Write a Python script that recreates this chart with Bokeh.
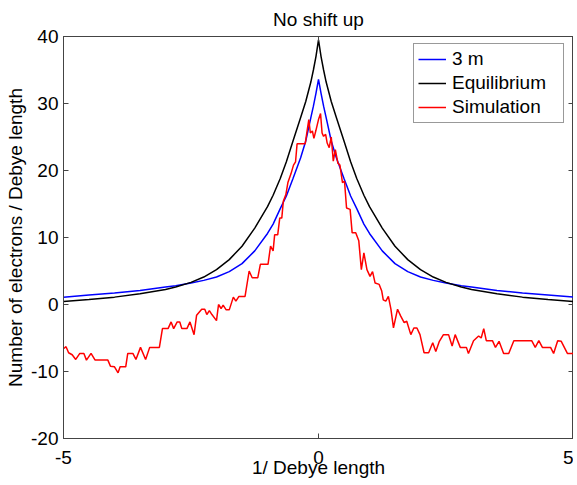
from bokeh.plotting import figure
from bokeh.models import LinearAxis, Legend, LegendItem, FixedTicker, Range1d
from bokeh.embed import file_html
from bokeh.resources import INLINE

# ---- data ----
x_smooth = [-5.0, -4.5, -4.0, -3.5, -3.0, -2.8, -2.5, -2.25, -2.0, -1.75, -1.5, -1.25, -1.0,
            -0.89, -0.75, -0.63, -0.5, -0.35, -0.25, -0.15, -0.1, -0.05, 0.0,
            0.05, 0.1, 0.15, 0.25, 0.35, 0.5, 0.63, 0.75, 0.89, 1.0,
            1.25, 1.5, 1.75, 2.0, 2.25, 2.5, 2.8, 3.0, 3.5, 4.0, 4.5, 5.0]
y_3m = [1.1, 1.4, 1.7, 2.1, 2.6, 2.8, 3.2, 3.6, 4.1, 4.9, 6.1, 8.0, 10.6,
        12.0, 14.3, 16.2, 18.8, 21.9, 24.4, 27.9, 29.6, 31.5, 33.6,
        31.5, 29.6, 27.9, 24.4, 21.9, 18.8, 16.2, 14.3, 12.0, 10.6,
        8.0, 6.1, 4.9, 4.1, 3.6, 3.2, 2.8, 2.6, 2.1, 1.7, 1.4, 1.1]
y_equilibrium = [0.45, 0.75, 1.1, 1.6, 2.25, 2.6, 3.3, 4.1, 5.2, 6.7, 8.7, 11.4, 14.6,
                 16.3, 18.8, 21.3, 24.4, 27.9, 30.3, 33.2, 35.0, 37.0, 39.5,
                 37.0, 35.0, 33.2, 30.3, 27.9, 24.4, 21.3, 18.8, 16.3, 14.6,
                 11.4, 8.7, 6.7, 5.2, 4.1, 3.3, 2.6, 2.25, 1.6, 1.1, 0.75, 0.45]

x_sim = [-5.00, -4.95, -4.90, -4.83, -4.76, -4.68, -4.60, -4.55, -4.46, -4.38, -4.13, -4.08,
         -4.00, -3.93, -3.89, -3.78, -3.74, -3.64, -3.58, -3.49, -3.39, -3.31, -3.12, -3.06,
         -2.95, -2.89, -2.84, -2.77, -2.72, -2.68, -2.58, -2.52, -2.44, -2.39, -2.29, -2.23,
         -2.19, -2.14, -2.09, -2.00, -1.96, -1.91, -1.87, -1.81, -1.75, -1.67, -1.62, -1.56,
         -1.44, -1.36, -1.30, -1.19, -1.14, -0.99, -0.94, -0.89, -0.86, -0.80, -0.76, -0.72,
         -0.69, -0.64, -0.60, -0.54, -0.49, -0.45, -0.42, -0.26, -0.22, -0.19, -0.16, -0.12,
         -0.09, -0.05, 0.00, 0.04, 0.07, 0.10, 0.14, 0.17, 0.21, 0.25, 0.29, 0.33,
         0.38, 0.42, 0.47, 0.51, 0.55, 0.62, 0.66, 0.73, 0.79, 0.84, 0.89, 0.95,
         1.01, 1.06, 1.11, 1.19, 1.24, 1.27, 1.32, 1.37, 1.42, 1.47, 1.55, 1.61,
         1.68, 1.73, 1.81, 1.87, 1.93, 1.99, 2.07, 2.16, 2.24, 2.30, 2.37, 2.45,
         2.55, 2.62, 2.68, 2.78, 2.90, 2.94, 3.04, 3.14, 3.19, 3.24, 3.29, 3.41,
         3.47, 3.54, 3.63, 3.73, 3.83, 4.18, 4.25, 4.32, 4.39, 4.55, 4.61, 4.69,
         4.76, 4.82, 4.88, 5.00]
y_sim = [-6.6, -6.3, -7.2, -7.5, -8.2, -7.3, -7.3, -8.3, -7.3, -8.3, -8.3, -9.2,
         -9.3, -10.2, -9.3, -9.3, -7.3, -7.3, -8.2, -6.4, -8.2, -6.4, -6.4, -3.6,
         -3.6, -2.6, -3.6, -2.6, -2.6, -3.6, -3.6, -2.6, -4.5, -1.6, -0.7, -0.7,
         -1.5, -0.9, -1.5, -2.4, 0.0, -0.6, -0.1, -0.8, -0.8, 1.1, 0.5, 1.2,
         1.2, 5.0, 4.0, 4.0, 6.0, 6.0, 8.7, 8.0, 10.4, 10.4, 12.9, 12.9,
         15.4, 16.4, 18.2, 19.5, 20.8, 21.3, 24.0, 24.0, 26.1, 27.6, 25.6, 25.9,
         24.8, 26.0, 27.6, 28.5, 25.6, 25.1, 25.4, 24.1, 23.4, 25.0, 21.4, 23.1,
         21.1, 20.8, 18.2, 18.4, 14.4, 14.2, 10.7, 10.7, 9.5, 5.2, 7.7, 5.2,
         4.2, 4.9, 3.2, 3.0, 2.0, 0.7, 0.5, 1.2, -0.7, -3.5, -0.7, -1.7,
         -2.7, -2.5, -4.5, -3.5, -3.5, -4.5, -7.2, -7.2, -5.7, -7.0, -5.5, -4.5,
         -4.5, -6.2, -4.5, -6.4, -6.4, -7.3, -5.4, -4.7, -5.0, -3.6, -5.4, -5.4,
         -6.4, -5.5, -7.3, -7.3, -5.4, -5.4, -6.4, -5.4, -6.4, -6.4, -7.3, -5.4,
         -5.5, -6.4, -7.3, -7.3]

x_ticks = [-5, 0, 5]
x_tick_labels = ["-5", "0", "5"]
y_ticks = [-20, -10, 0, 10, 20, 30, 40]
y_tick_labels = ["-20", "-10", "0", "10", "20", "30", "40"]

series_names = ["3 m", "Equilibrium", "Simulation"]
series_colors = ["#0000ff", "#000000", "#ff0000"]

FONT = "Liberation Sans"
AXIS_COLOR = "#444444"

p = figure(width=573, height=484, output_backend="svg", toolbar_location=None,
           x_range=Range1d(-5, 5), y_range=Range1d(-20, 40),
           min_border_left=63, min_border_right=0, min_border_top=36, min_border_bottom=46,
           x_axis_label="1/ Debye length", y_axis_label="Number of electrons / Debye length",
           title="No shift up")
p.grid.visible = False
p.outline_line_color = AXIS_COLOR
p.background_fill_color = "white"
p.border_fill_color = "white"

p.title.text_font = FONT
p.title.text_font_size = "19px"
p.title.text_font_style = "normal"
p.title.text_color = "black"
p.title.align = "center"
p.title.standoff = 13

r1 = p.line(x_smooth, y_3m, line_color=series_colors[0], line_width=1.5)
r2 = p.line(x_smooth, y_equilibrium, line_color=series_colors[1], line_width=1.5)
r3 = p.line(x_sim, y_sim, line_color=series_colors[2], line_width=1.5)


def style_axis(ax, ticks, labels, show_labels=True):
    ax.ticker = FixedTicker(ticks=ticks)
    ax.major_label_overrides = {t: l for t, l in zip(ticks, labels)}
    ax.major_tick_in = 5
    ax.major_tick_out = 0
    ax.minor_tick_line_color = None
    ax.axis_line_color = AXIS_COLOR
    ax.major_tick_line_color = AXIS_COLOR
    ax.major_label_text_font = FONT
    ax.major_label_text_color = "black"
    if show_labels:
        ax.major_label_text_font_size = "19px"
    else:
        ax.major_label_text_font_size = "0px"
        ax.major_label_standoff = 0
        ax.axis_label_standoff = 0


style_axis(p.xaxis[0], x_ticks, x_tick_labels)
style_axis(p.yaxis[0], y_ticks, y_tick_labels)
for ax in (p.xaxis[0], p.yaxis[0]):
    ax.axis_label_text_font = FONT
    ax.axis_label_text_font_size = "19px"
    ax.axis_label_text_font_style = "normal"
    ax.axis_label_text_color = "black"
p.xaxis[0].major_label_standoff = 12
p.xaxis[0].axis_label_standoff = -10
p.yaxis[0].major_label_standoff = 5
p.yaxis[0].axis_label_standoff = 2

top_ax = LinearAxis()
style_axis(top_ax, x_ticks, ["", "", ""], show_labels=False)
p.add_layout(top_ax, "above")
right_ax = LinearAxis()
style_axis(right_ax, y_ticks, [""] * len(y_ticks), show_labels=False)
p.add_layout(right_ax, "right")

legend = Legend(items=[LegendItem(label=series_names[0], renderers=[r1]),
                       LegendItem(label=series_names[1], renderers=[r2]),
                       LegendItem(label=series_names[2], renderers=[r3])],
                location=(350, 315), label_text_font=FONT, label_text_font_size="19px",
                label_text_color="black",
                glyph_width=28, glyph_height=20, label_height=20, label_width=107,
                spacing=2, padding=4, margin=0, label_standoff=6,
                border_line_color="#333333",
                background_fill_color="white", background_fill_alpha=1.0)
p.add_layout(legend)

open("out.html", "w").write(file_html(p, INLINE))
